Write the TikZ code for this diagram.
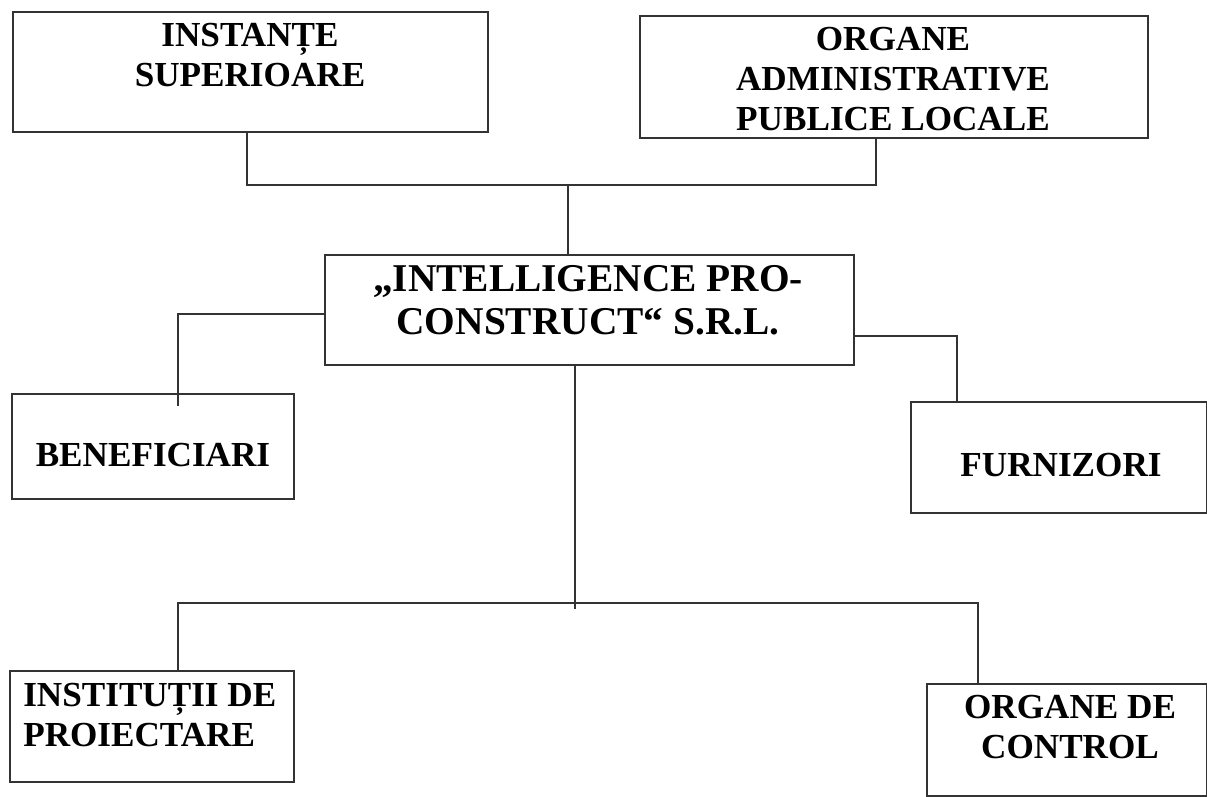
\documentclass[tikz,border=0pt]{standalone}
\usepackage{fontspec}
\setmainfont{Liberation Serif}
\usetikzlibrary{positioning}

\begin{document}
\begin{tikzpicture}[x=0.025cm, y=-0.025cm,
  box/.style={draw=black!80, line width=1.1pt, anchor=north west, inner sep=0pt},
  lbl/.style={font=\fontsize{25}{28.5}\selectfont\bfseries, align=center, anchor=north, inner sep=0pt},
  link/.style={draw=black!80, line width=1.1pt}]
  \useasboundingbox (0,0) rectangle (1207,796);
  % boxes
  \node[box, minimum width=11.875cm, minimum height=3cm] (sup) at (12,11) {};
  \node[box, minimum width=12.7cm, minimum height=3.05cm] (adm) at (639,15) {};
  \node[box, minimum width=13.225cm, minimum height=2.75cm] (ipc) at (324,254) {};
  \node[box, minimum width=7.05cm, minimum height=2.625cm] (ben) at (11,393) {};
  \node[box, minimum width=7.4cm, minimum height=2.775cm] (fur) at (910,401) {};
  \node[box, minimum width=7.1cm, minimum height=2.775cm] (inst) at (9,670) {};
  \node[box, minimum width=7.0cm, minimum height=2.8cm] (ctrl) at (926,683) {};
  % texts
  \node[lbl] (sup-t) at (250,23) {INSTANȚE\\SUPERIOARE};
  \node[lbl] (adm-t) at (893,27) {ORGANE\\ADMINISTRATIVE\\PUBLICE LOCALE};
  \node[lbl, font=\fontsize{28}{31}\selectfont\bfseries] (ipc-t) at (588,265) {„INTELLIGENCE PRO-\\CONSTRUCT“ S.R.L.};
  \node[lbl] (ben-t) at (153,443) {BENEFICIARI};
  \node[lbl] (fur-t) at (1061,453) {FURNIZORI};
  \node[lbl, align=left, anchor=north west] (inst-t) at (23,683) {INSTITUȚII DE\\PROIECTARE};
  \node[lbl] (ctrl-t) at (1070,695) {ORGANE DE\\CONTROL};
  % junctions
  \coordinate (top-l) at (247,185);
  \coordinate (top-m) at (568,185);
  \coordinate (top-r) at (876,185);
  \coordinate (ben-j) at (178,314);
  \coordinate (ben-in) at (178,406);
  \coordinate (fur-j) at (957,336);
  \coordinate (bot-l) at (178,603);
  \coordinate (bot-m) at (575,603);
  \coordinate (bot-r) at (978,603);
  % connectors
  \draw[link] (sup.south -| top-l) -- (top-l) -- (top-r) -- (adm.south -| top-r);
  \draw[link] (top-m) -- (ipc.north -| top-m);
  \draw[link] (ipc.west |- ben-j) -- (ben-j) -- (ben-in);
  \draw[link] (ipc.east |- fur-j) -- (fur-j) -- (fur.north -| fur-j);
  \draw[link] (ipc.south -| bot-m) -- ([yshift=-0.15cm]bot-m);
  \draw[link] (inst.north -| bot-l) -- (bot-l) -- (bot-r) -- (ctrl.north -| bot-r);
\end{tikzpicture}
\end{document}
